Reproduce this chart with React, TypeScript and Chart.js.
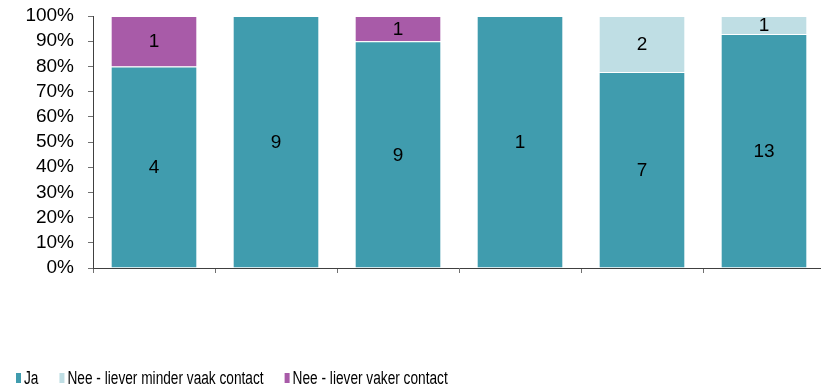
import React, { useEffect, useRef } from "react";
import { Chart, registerables } from "chart.js";

Chart.register(...registerables);

const categories = ["", "", "", "", "", ""];
const jaCounts = [4, 9, 9, 1, 7, 13];
const minderCounts = [0, 0, 0, 0, 2, 1];
const vakerCounts = [1, 0, 1, 0, 0, 0];
const seriesNames = ["Ja", "Nee - liever minder vaak contact", "Nee - liever vaker contact"];
const seriesColors = ["#409CAE", "#BFDEE4", "#A85BA8"];
const yTicks = [0, 10, 20, 30, 40, 50, 60, 70, 80, 90, 100];

const totals = categories.map((_, i) => jaCounts[i] + minderCounts[i] + vakerCounts[i]);
const toPct = (arr: number[]) => arr.map((v, i) => (v / totals[i]) * 100);
const countSeries = [jaCounts, minderCounts, vakerCounts];

const FONT = "'Liberation Sans', Arial, sans-serif";

const labelPlugin = {
  id: "countLabels",
  afterDatasetsDraw(chart: any) {
    const ctx = chart.ctx;
    ctx.save();
    ctx.font = `19px ${FONT}`;
    ctx.fillStyle = "#000";
    ctx.textAlign = "center";
    ctx.textBaseline = "middle";
    chart.data.datasets.forEach((ds: any, di: number) => {
      const meta = chart.getDatasetMeta(di);
      meta.data.forEach((bar: any, i: number) => {
        const c = countSeries[di][i];
        if (!c) return;
        const y = (bar.y + bar.base) / 2;
        ctx.fillText(String(c), bar.x, y + 1);
      });
    });
    ctx.restore();
  },
};

// Legend drawn at the bottom-left with a horizontally condensed font
const legendPlugin = {
  id: "condensedLegend",
  afterDraw(chart: any) {
    const ctx = chart.ctx;
    const squeeze = 0.76;
    const yMid = chart.height - 12;
    let x = 16;
    ctx.save();
    ctx.font = `18px ${FONT}`;
    ctx.textBaseline = "middle";
    ctx.textAlign = "left";
    chart.data.datasets.forEach((ds: any) => {
      ctx.fillStyle = ds.backgroundColor;
      ctx.fillRect(x, yMid - 5, 5, 10);
      const tx = x + 8;
      const w = ctx.measureText(ds.label).width * squeeze;
      ctx.save();
      ctx.translate(tx, yMid);
      ctx.scale(squeeze, 1);
      ctx.fillStyle = "#000";
      ctx.fillText(ds.label, 0, 1);
      ctx.restore();
      x = tx + w + 21;
    });
    ctx.restore();
  },
};

export default function App() {
  const ref = useRef<HTMLCanvasElement>(null);
  useEffect(() => {
    document.body.style.margin = "0";
    const chart = new Chart(ref.current!, {
      type: "bar",
      data: {
        labels: categories,
        datasets: countSeries.map((arr, k) => ({
          label: seriesNames[k],
          data: toPct(arr),
          backgroundColor: seriesColors[k],
          borderColor: "#ffffff",
          borderWidth: 1,
          categoryPercentage: 1,
          barPercentage: 0.71,
        })),
      },
      options: {
        responsive: false,
        animation: false,
        layout: { padding: { top: 16, right: 0, bottom: 0, left: 0 } },
        plugins: {
          tooltip: { enabled: false },
          legend: { display: false },
        },
        scales: {
          x: {
            stacked: true,
            grid: { display: true, drawOnChartArea: false, drawTicks: true, tickLength: 5, color: "#707070", offset: true },
            border: { display: true, color: "#404040" },
            ticks: { display: false },
            afterFit: (s: any) => { s.height = 122; },
          },
          y: {
            stacked: true,
            min: 0,
            max: 100,
            afterBuildTicks: (s: any) => { s.ticks = yTicks.map((v) => ({ value: v })); },
            grid: { display: true, drawOnChartArea: false, drawTicks: true, tickLength: 5, color: "#707070" },
            border: { display: true, color: "#404040" },
            ticks: {
              autoSkip: false,
              padding: 14,
              color: "#000",
              font: { family: FONT, size: 19 },
              callback: (v: any) => v + "%",
            },
            afterFit: (s: any) => { s.width = 93; s.paddingTop = 0; s.paddingBottom = 0; },
          },
        },
      },
      plugins: [labelPlugin, legendPlugin],
    });
    return () => chart.destroy();
  }, []);
  return (
    <div style={{ width: 821, height: 390, overflow: "hidden" }}>
      <canvas ref={ref} width={825} height={390} style={{ display: "block" }} />
    </div>
  );
}
